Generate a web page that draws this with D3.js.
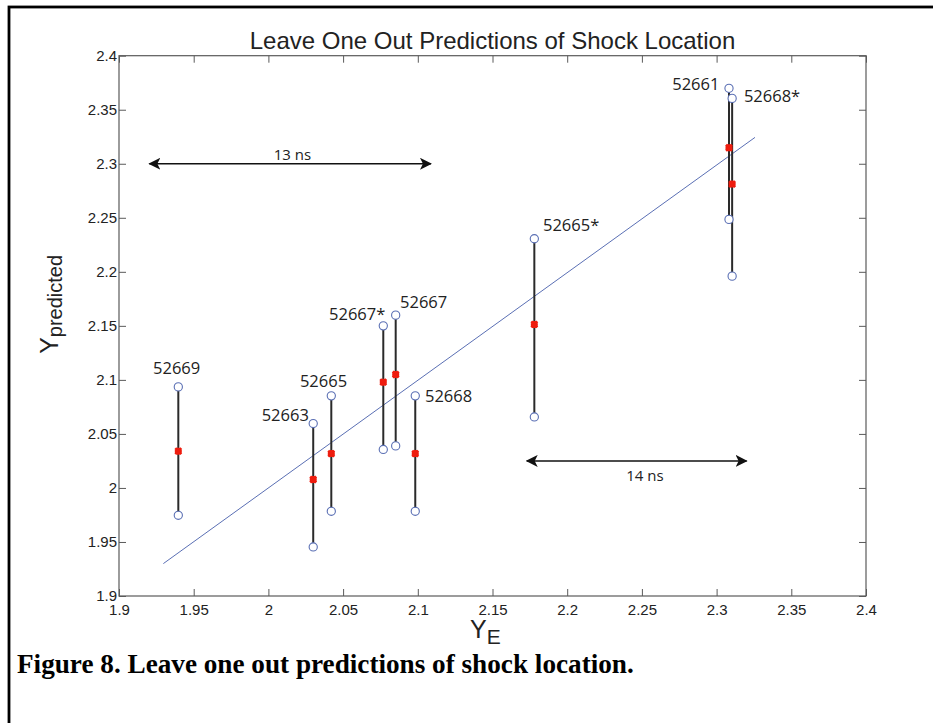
<!DOCTYPE html>
<html>
<head>
<meta charset="utf-8">
<script src="https://cdn.jsdelivr.net/npm/d3@7"></script>
<style>
  html, body { margin: 0; padding: 0; background: #fff; }
  svg { display: block; }
</style>
</head>
<body>
<svg id="chart" width="933" height="723"></svg>
<script>
// ---------- data ----------
const title = "Leave One Out Predictions of Shock Location";
const caption = "Figure 8. Leave one out predictions of shock location.";
const xTickValues = [1.9, 1.95, 2, 2.05, 2.1, 2.15, 2.2, 2.25, 2.3, 2.35, 2.4];
const xTickLabels = ["1.9", "1.95", "2", "2.05", "2.1", "2.15", "2.2", "2.25", "2.3", "2.35", "2.4"];
const yTickValues = [1.9, 1.95, 2, 2.05, 2.1, 2.15, 2.2, 2.25, 2.3, 2.35, 2.4];
const yTickLabels = ["1.9", "1.95", "2", "2.05", "2.1", "2.15", "2.2", "2.25", "2.3", "2.35", "2.4"];

// each shot: measured Y_E, lower & upper leave-one-out prediction, mean prediction
const shotX     = [1.9397, 2.0300, 2.0421, 2.0769, 2.0852, 2.0983, 2.1780, 2.3083, 2.3104];
const shotLow   = [1.9747, 1.9454, 1.9784, 2.0356, 2.0389, 1.9784, 2.0657, 2.2485, 2.1960];
const shotHigh  = [2.0935, 2.0596, 2.0852, 2.1500, 2.1599, 2.0852, 2.2306, 2.3698, 2.3605];
const shotPred  = [2.0340, 2.0078, 2.0318, 2.0979, 2.1050, 2.0318, 2.1513, 2.3148, 2.2812];

// shot labels, placed at data coordinates (left edge of text, baseline)
const labelText = ["52669", "52663", "52665", "52667*", "52667", "52668", "52665*", "52661", "52668*"];
const labelX    = [1.9228, 1.9955, 2.0211, 2.0406, 2.0881, 2.1048, 2.1838, 2.2703, 2.3183];
const labelY    = [2.1053, 2.0618, 2.0935, 2.1553, 2.1664, 2.0794, 2.2380, 2.3682, 2.3574];

// fit line (y = x)
const fitX = [1.9297, 2.3257];
const fitY = [1.9300, 2.3244];

// double-headed arrow annotations
const arrowText  = ["13 ns", "14 ns"];
const arrowX1    = [1.9203, 2.1729];
const arrowX2    = [2.1088, 2.3201];
const arrowY     = [2.3000, 2.0250];
const arrowTextX = [2.0161, 2.2520];
const arrowTextY = [2.3034, 2.0065];

// ---------- drawing ----------
const svg = d3.select("#chart");
const M = { left: 119, right: 866, top: 55.7, bottom: 596 };
const x = d3.scaleLinear().domain([1.9, 2.4]).range([M.left, M.right]);
const y = d3.scaleLinear().domain([1.9, 2.4]).range([M.bottom, M.top]);

// outer frame
svg.append("rect")
  .attr("x", 9).attr("y", 7)
  .attr("width", 960).attr("height", 760)
  .attr("fill", "none").attr("stroke", "#000").attr("stroke-width", 2.8);

const axisColor = "#5a5a5a";
const tickFont = "'Liberation Sans', Arial, Helvetica, sans-serif";

function styleAxis(g, showText) {
  g.select(".domain").remove();
  g.selectAll(".tick line").attr("stroke", axisColor).attr("stroke-width", 1);
  g.selectAll(".tick text")
    .attr("fill", "#222")
    .style("font-family", tickFont)
    .style("font-size", "15px");
  if (!showText) g.selectAll(".tick text").remove();
}

svg.append("g").attr("transform", `translate(0,${M.bottom})`)
  .call(d3.axisBottom(x).tickValues(xTickValues).tickSize(-7).tickSizeOuter(0).tickPadding(8)
        .tickFormat((d, i) => xTickLabels[i]))
  .call(g => styleAxis(g, true));
svg.append("g").attr("transform", `translate(0,${M.top})`)
  .call(d3.axisTop(x).tickValues(xTickValues).tickSize(-7).tickSizeOuter(0))
  .call(g => styleAxis(g, false));
svg.append("g").attr("transform", `translate(${M.left},0)`)
  .call(d3.axisLeft(y).tickValues(yTickValues).tickSize(-7).tickSizeOuter(0).tickPadding(2)
        .tickFormat((d, i) => yTickLabels[i]))
  .call(g => styleAxis(g, true))
  .call(g => g.selectAll(".tick text").attr("dy", "0.3em"));
svg.append("g").attr("transform", `translate(${M.right},0)`)
  .call(d3.axisRight(y).tickValues(yTickValues).tickSize(-7).tickSizeOuter(0))
  .call(g => styleAxis(g, false));

// plot box
svg.append("rect")
  .attr("x", M.left).attr("y", M.top)
  .attr("width", M.right - M.left).attr("height", M.bottom - M.top)
  .attr("fill", "none").attr("stroke", axisColor).attr("stroke-width", 1.2);

// title
svg.append("text")
  .attr("x", (M.left + M.right) / 2).attr("y", 49)
  .attr("text-anchor", "middle")
  .style("font-family", tickFont).style("font-size", "24px").attr("fill", "#222")
  .text(title);

// x label
const xl = svg.append("text")
  .attr("x", 470).attr("y", 638)
  .attr("text-anchor", "start")
  .style("font-family", tickFont).attr("fill", "#222");
xl.append("tspan").style("font-size", "25px").text("Y");
xl.append("tspan").style("font-size", "21px").attr("dy", 6).text("E");

// y label
const yl = svg.append("text")
  .attr("transform", `translate(58,${(M.top + M.bottom) / 2 + 28}) rotate(-90)`)
  .attr("text-anchor", "start")
  .style("font-family", tickFont).attr("fill", "#222");
yl.append("tspan").style("font-size", "25px").text("Y");
yl.append("tspan").style("font-size", "20px").attr("dy", 4).text("predicted");

// fit line
svg.append("line")
  .attr("x1", x(fitX[0])).attr("y1", y(fitY[0]))
  .attr("x2", x(fitX[1])).attr("y2", y(fitY[1]))
  .attr("stroke", "#5a6fb4").attr("stroke-width", 1);

const idx = d3.range(shotX.length);

// error bars
svg.append("g").selectAll("line").data(idx).join("line")
  .attr("x1", i => x(shotX[i])).attr("x2", i => x(shotX[i]))
  .attr("y1", i => y(shotLow[i])).attr("y2", i => y(shotHigh[i]))
  .attr("stroke", "#2a2a2a").attr("stroke-width", 2);

// circles at both ends
const ends = idx.flatMap(i => [[shotX[i], shotLow[i]], [shotX[i], shotHigh[i]]]);
svg.append("g").selectAll("circle").data(ends).join("circle")
  .attr("cx", d => x(d[0])).attr("cy", d => y(d[1])).attr("r", 4.1)
  .attr("fill", "#fff").attr("stroke", "#5a6fb4").attr("stroke-width", 1.1);

// red prediction markers
svg.append("g").selectAll("path").data(idx).join("path")
  .attr("transform", i => `translate(${x(shotX[i])},${y(shotPred[i])})`)
  .attr("d", "M-3,-3L3,3M-3,3L3,-3M-3.5,0L3.5,0M0,-3.5L0,3.5")
  .attr("stroke", "#ee1c0e").attr("stroke-width", 2.6).attr("fill", "none");

// shot labels
svg.append("g").selectAll("text").data(idx).join("text")
  .attr("x", i => x(labelX[i])).attr("y", i => y(labelY[i]))
  .style("font-family", "'Open Sans', sans-serif").style("font-size", "16.5px")
  .attr("fill", "#222")
  .text(i => labelText[i]);

// arrows
const defs = svg.append("defs");
defs.append("marker").attr("id", "ah").attr("viewBox", "0 0 12 12")
  .attr("refX", 11).attr("refY", 6).attr("markerWidth", 12).attr("markerHeight", 12)
  .attr("markerUnits", "userSpaceOnUse").attr("orient", "auto-start-reverse")
  .append("path").attr("d", "M0,0 L12,6 L0,12 L3,6 Z").attr("fill", "#111");

const ai = d3.range(arrowText.length);
svg.append("g").selectAll("line").data(ai).join("line")
  .attr("x1", i => x(arrowX1[i])).attr("x2", i => x(arrowX2[i]))
  .attr("y1", i => y(arrowY[i])).attr("y2", i => y(arrowY[i]))
  .attr("stroke", "#111").attr("stroke-width", 1.6)
  .attr("marker-start", "url(#ah)").attr("marker-end", "url(#ah)");
svg.append("g").selectAll("text").data(ai).join("text")
  .attr("x", i => x(arrowTextX[i])).attr("y", i => y(arrowTextY[i]))
  .attr("text-anchor", "middle")
  .style("font-family", "'Open Sans', sans-serif").style("font-size", "15px")
  .attr("fill", "#222")
  .text(i => arrowText[i]);

// caption
svg.append("text")
  .attr("x", 17).attr("y", 673)
  .style("font-family", "'Liberation Serif', 'Times New Roman', serif")
  .style("font-weight", "bold").style("font-size", "27.2px").attr("fill", "#000")
  .text(caption);
</script>
</body>
</html>
